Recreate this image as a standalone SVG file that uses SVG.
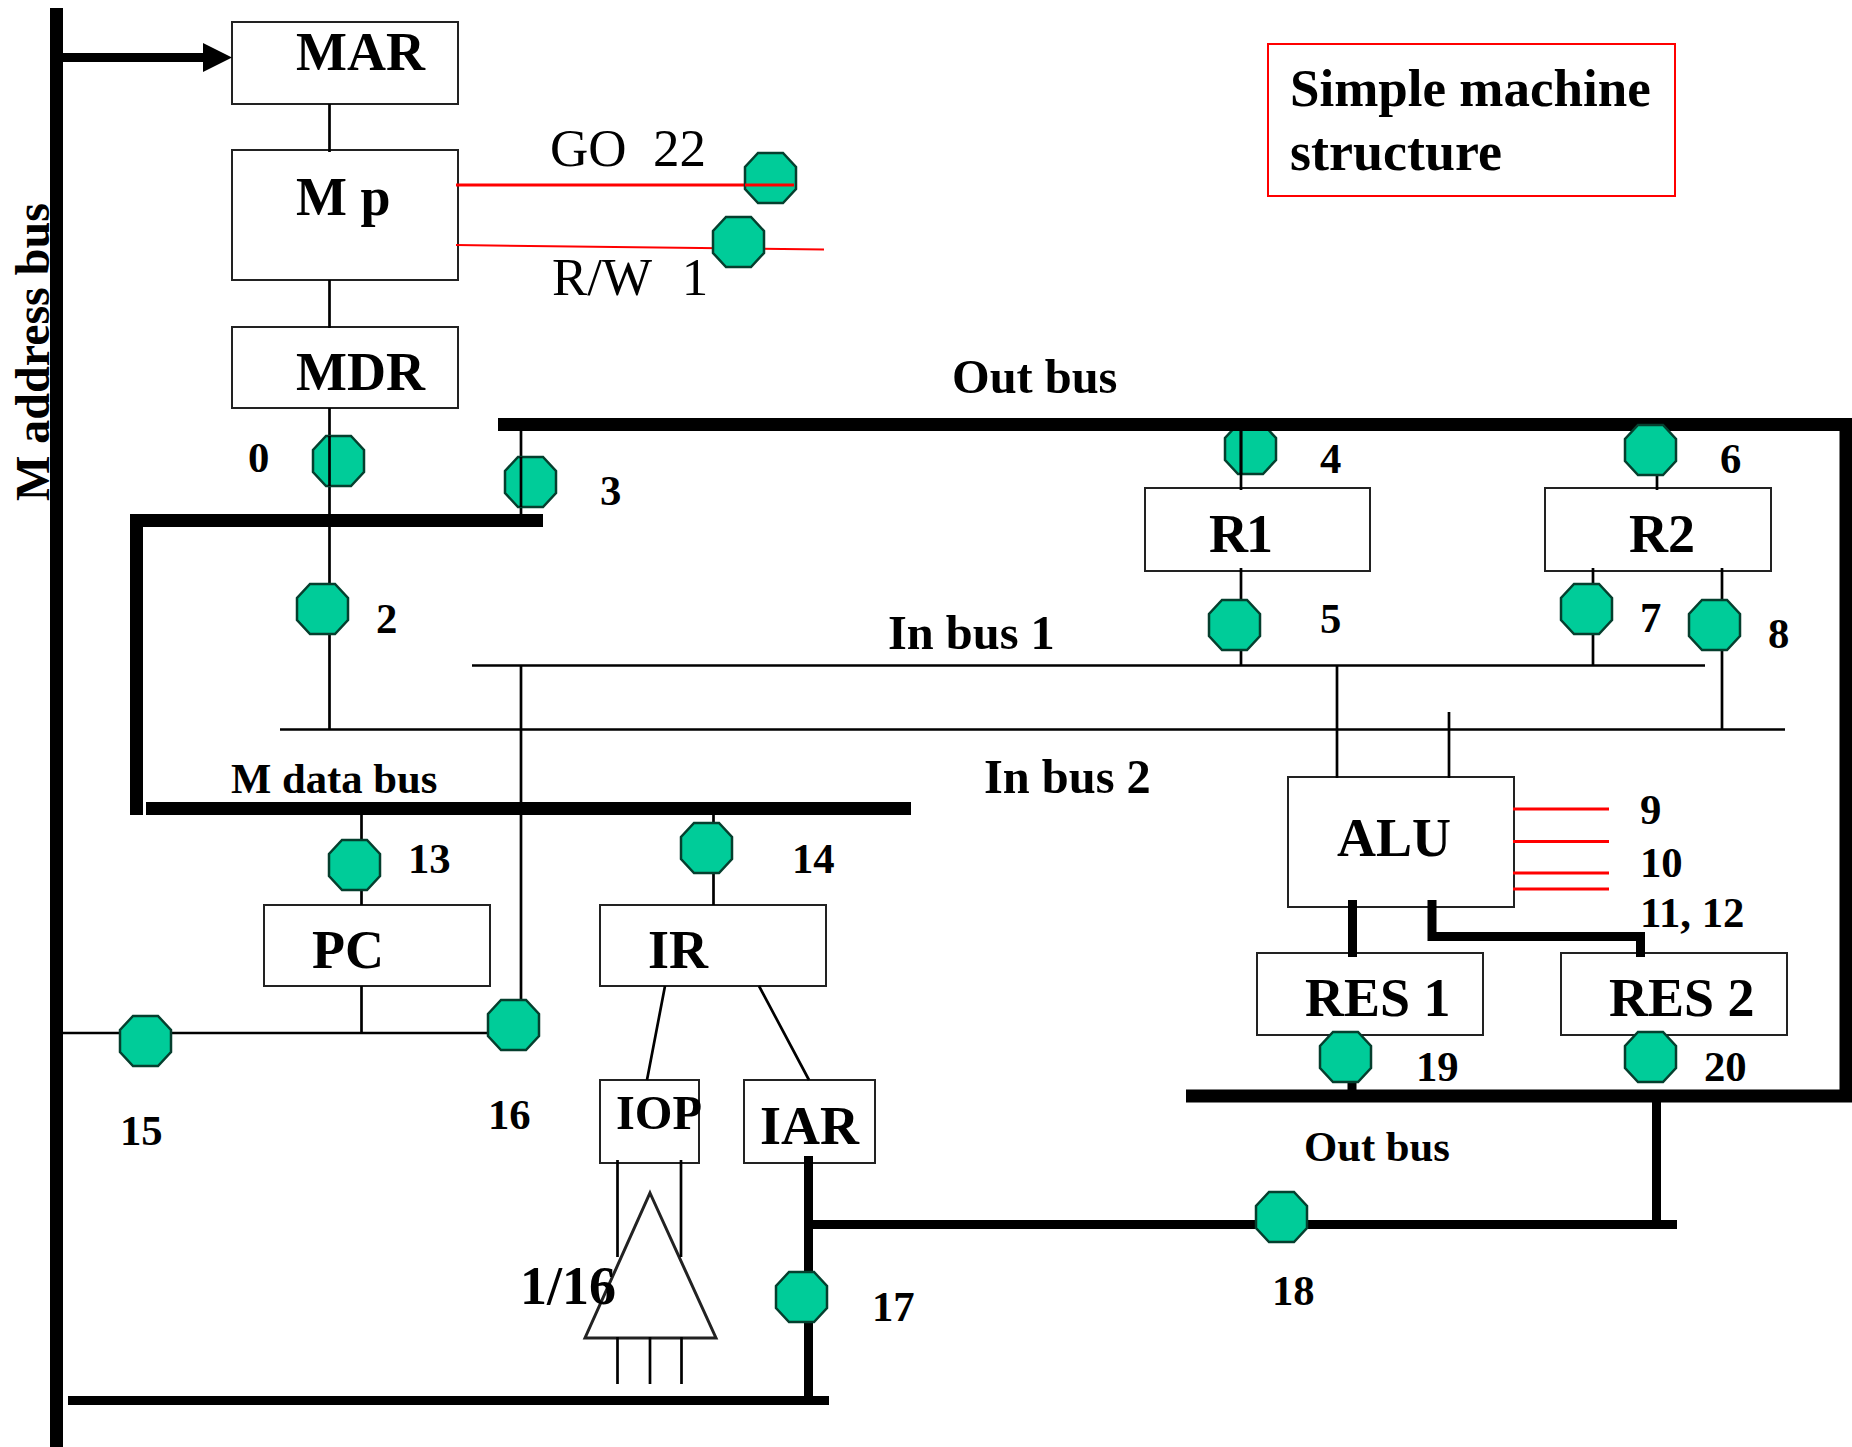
<svg xmlns="http://www.w3.org/2000/svg" width="1852" height="1447" viewBox="0 0 1852 1447">
<style>
text{font-family:"Liberation Serif","Times New Roman",serif;font-weight:bold;fill:#000;white-space:pre}
.n{font-weight:normal;font-size:53px}
.b{font-size:54px}
.ti{font-size:53px}
.s{font-size:42.7px}
.m{font-size:48.400px}
.box{fill:#fff;stroke:#222;stroke-width:2}
.t{fill:none;stroke:#000;stroke-width:2.7}
.k{fill:none;stroke:#000;stroke-width:9}
.h{fill:none;stroke:#000;stroke-width:13}
.r{fill:none;stroke:#f00;stroke-width:3}
.oct{fill:#00cc99;stroke:#053f2e;stroke-width:2.500}
</style>
<defs>
<polygon id="o" points="13,0 38,0 51,14 51,36 38,50 13,50 0,36 0,14"/>
</defs>
<rect width="1852" height="1447" fill="#fff"/>
<g id="sw4"><use href="#o" class="oct" x="1225" y="424"/></g>
<g id="MAR"><rect class="box" x="232" y="22" width="226" height="82"/><text class="b" x="296" y="70">MAR</text></g>
<g id="Mp"><rect class="box" x="232" y="150" width="226" height="130"/><text class="b" x="296" y="215">M p</text></g>
<g id="MDR"><rect class="box" x="232" y="327" width="226" height="81"/><text class="b" x="296" y="390">MDR</text></g>
<g id="R1"><rect class="box" x="1145" y="488" width="225" height="83"/><text class="b" x="1209" y="552" textLength="64">R1</text></g>
<g id="R2"><rect class="box" x="1545" y="488" width="226" height="83"/><text class="b" x="1629" y="552">R2</text></g>
<g id="ALU"><rect class="box" x="1288" y="777" width="226" height="130"/><text class="b" x="1337" y="856">ALU</text></g>
<g id="RES1"><rect class="box" x="1257" y="953" width="226" height="82"/><text class="b" x="1305" y="1016">RES 1</text></g>
<g id="RES2"><rect class="box" x="1561" y="953" width="226" height="82"/><text class="b" x="1609" y="1016">RES 2</text></g>
<g id="PC"><rect class="box" x="264" y="905" width="226" height="81"/><text class="b" x="312" y="968">PC</text></g>
<g id="IR"><rect class="box" x="600" y="905" width="226" height="81"/><text class="b" x="648" y="968">IR</text></g>
<g id="IOP"><rect class="box" x="600" y="1080" width="99" height="83"/><text class="m" x="616" y="1129">IOP</text></g>
<g id="IAR"><rect class="box" x="744" y="1080" width="131" height="83"/><text class="b" x="760" y="1144">IAR</text></g>
<g id="decoder"><polygon points="650,1193 716,1338 585,1338" fill="none" stroke="#222" stroke-width="3"/><text class="b" x="520" y="1304">1/16</text></g>
<g id="title"><rect x="1268" y="44" width="407" height="152" fill="#fff" stroke="#f00" stroke-width="2"/><text class="ti" x="1290" y="106">Simple machine</text><text class="b" x="1290" y="170">structure</text></g>
<g id="connectors">
<path class="t" d="M329.500 104V152M329.500 280V328M329.500 408V730M521 431V515M1241 431V490M1241 568V666M1657 474V490M1593 568V665M1722 568V729M1337 665V778M1449 712V778M472 665.500H1705M280 729.500H1785M521 665V1005M361.500 815V905M713.500 815V905M361.500 986V1033M63 1033H490M665 986L647 1080M759 986L809 1080M617.500 1160V1257M681 1160V1257M617.500 1337V1384M650 1337V1384M681.500 1337V1384"/>
<path class="r" d="M456 185H794M1513 809H1609M1513 841.500H1609M1513 873H1609M1513 889H1609"/>
<path class="r" style="stroke-width:2" d="M456 245L824 249.500"/>
<path class="h" d="M498 424.500H1846V1096M1186 1096H1852M136.500 815V520.500H543M146 808.500H911"/>
<path d="M56.500 8V1447" fill="none" stroke="#000" stroke-width="13"/>
<path class="k" d="M1352.500 900V957M1432 900V936.500H1640.500V957M1352 1083V1096M1656.500 1096V1225M808.500 1156V1400M808.500 1224.500H1677M68 1400.500H829"/>
<path d="M63 53H203V43L232 57.500L203 72V62H63Z" fill="#000"/>
</g>
<g id="switches">
<use href="#o" class="oct" x="313" y="436"/><use href="#o" class="oct" x="505" y="457"/><use href="#o" class="oct" x="297" y="584"/>
<use href="#o" class="oct" x="745" y="153"/><use href="#o" class="oct" x="713" y="217"/>
<use href="#o" class="oct" x="1625" y="425"/><use href="#o" class="oct" x="1209" y="600"/><use href="#o" class="oct" x="1561" y="584"/><use href="#o" class="oct" x="1689" y="600"/>
<use href="#o" class="oct" x="329" y="840"/><use href="#o" class="oct" x="681" y="823"/><use href="#o" class="oct" x="120" y="1016"/><use href="#o" class="oct" x="488" y="1000"/>
<use href="#o" class="oct" x="776" y="1272"/><use href="#o" class="oct" x="1256" y="1192"/><use href="#o" class="oct" x="1320" y="1032"/><use href="#o" class="oct" x="1625" y="1032"/>
</g>
<g id="overlines"><path class="t" d="M329.500 436V486M521 457V507M1241 431V474"/><path class="r" d="M745 185H794"/></g>
<g id="labels">
<text class="n" x="550" y="166">GO  22</text><text class="n" x="552" y="295">R/W  <tspan dx="4">1</tspan></text>
<text class="s" x="248" y="472">0</text><text class="s" x="600" y="505">3</text><text class="s" x="376" y="633">2</text><text class="s" x="1320" y="473">4</text><text class="s" x="1320" y="633">5</text><text class="s" x="1720" y="473">6</text><text class="s" x="1640" y="632">7</text><text class="s" x="1768" y="648">8</text>
<text class="s" x="1640" y="824">9</text><text class="s" x="1640" y="877">10</text><text class="s" x="1640" y="927">11, 12</text>
<text class="s" x="408" y="873">13</text><text class="s" x="792" y="873">14</text><text class="s" x="120" y="1145">15</text><text class="s" x="488" y="1129">16</text><text class="s" x="872" y="1321">17</text><text class="s" x="1272" y="1305">18</text><text class="s" x="1416" y="1081">19</text><text class="s" x="1704" y="1081">20</text>
<text class="m" x="952" y="393">Out bus</text><text class="s" x="1304" y="1161">Out bus</text><text class="m" x="888" y="649">In bus 1</text><text class="m" x="984" y="793">In bus 2</text><text class="s" x="231" y="793">M data bus</text>
<text transform="translate(49 501) rotate(-90)" style="font-size:48px">M address bus</text>
</g>
</svg>
